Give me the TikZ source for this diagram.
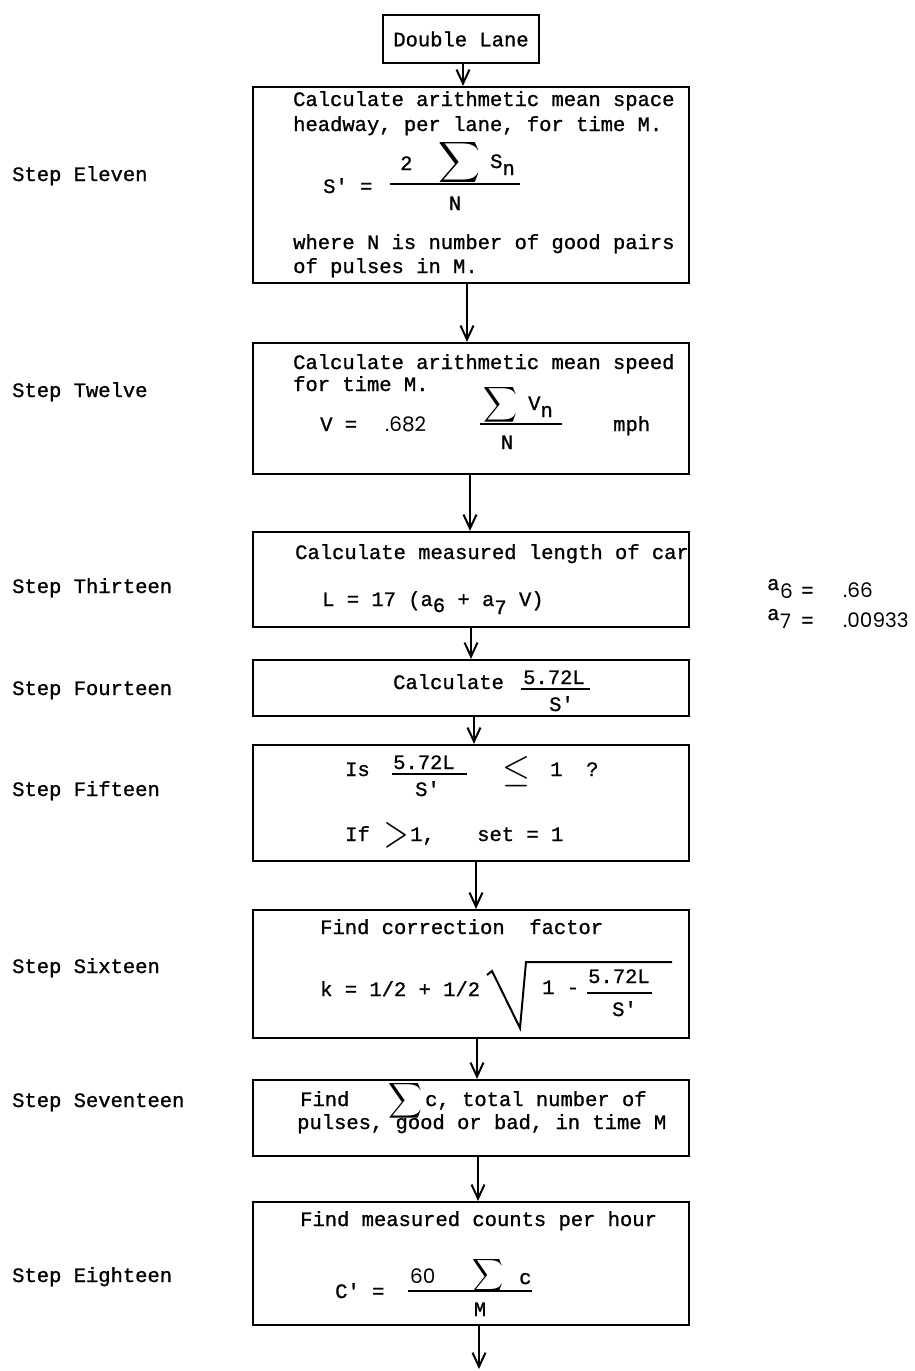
\documentclass[tikz,border=0pt]{standalone}
\usepackage{fontspec}
\usepackage{graphicx}
\usetikzlibrary{arrows.meta,calc}
\newfontfamily\twfont[FakeBold=1]{Liberation Mono}
\newfontfamily\geofont{Poppins}
\newcommand{\tw}{\twfont\fontsize{20.5}{24}\selectfont}
\newcommand{\geo}{\geofont\fontsize{20}{24}\selectfont}
\newcommand{\bigsum}[2]{\resizebox{#1}{#2}{$\displaystyle\sum$}}
\begin{document}
\begin{tikzpicture}[x=1pt,y=-1pt,
  box/.style={draw,line width=2.2pt,inner sep=0pt},
  tx/.style={anchor=base west,inner sep=0pt,font=\tw},
  tc/.style={anchor=base,inner sep=0pt,font=\tw},
  gx/.style={anchor=base west,inner sep=0pt,font=\geo},
  sym/.style={inner sep=0pt,anchor=center},
  frac/.style={line width=1.6pt},
  rad/.style={line width=2pt,line join=miter},
  arr/.style={line width=2pt,-{Straight Barb[length=14pt,width=13pt]}}]
\fill[white] (0,0) rectangle (914,1371);
\useasboundingbox (0,0) rectangle (914,1371);

% boxes
\node[box,minimum width=156pt,minimum height=48pt,font=\tw] (b1) at (461,39) {Double Lane};
\node[box,minimum width=436pt,minimum height=196pt] (b2) at (471,185) {};
\node[box,minimum width=436pt,minimum height=131pt] (b3) at (471,408.5) {};
\node[box,minimum width=436pt,minimum height=95pt] (b4) at (471,579.5) {};
\node[box,minimum width=436pt,minimum height=56pt] (b5) at (471,688) {};
\node[box,minimum width=436pt,minimum height=116pt] (b6) at (471,803) {};
\node[box,minimum width=436pt,minimum height=128pt] (b7) at (471,974) {};
\node[box,minimum width=436pt,minimum height=76pt] (b8) at (471,1118) {};
\node[box,minimum width=436pt,minimum height=123pt] (b9) at (471,1263.5) {};
\coordinate (end) at (479,1369);

% connectors
\draw[arr] ($(b1.south)+(2,0)$) -- ($(b2.north)+(-8,0)$);
\draw[arr] ($(b2.south)+(-4,0)$) -- ($(b3.north)+(-4,0)$);
\draw[arr] ($(b3.south)+(-1,0)$) -- ($(b4.north)+(-1,0)$);
\draw[arr] (b4.south) -- (b5.north);
\draw[arr] ($(b5.south)+(3,0)$) -- ($(b6.north)+(3,0)$);
\draw[arr] ($(b6.south)+(5,0)$) -- ($(b7.north)+(5,0)$);
\draw[arr] ($(b7.south)+(6,0)$) -- ($(b8.north)+(6,0)$);
\draw[arr] ($(b8.south)+(7,0)$) -- ($(b9.north)+(7,0)$);
\draw[arr] ($(b9.south)+(8,0)$) -- (end);

% step labels
\node[tx] (l11) at (12,181) {Step Eleven};
\node[tx] (l12) at (12,397) {Step Twelve};
\node[tx] (l13) at (12,593) {Step Thirteen};
\node[tx] (l14) at (12,695) {Step Fourteen};
\node[tx] (l15) at (12,796) {Step Fifteen};
\node[tx] (l16) at (12,973) {Step Sixteen};
\node[tx] (l17) at (12,1107) {Step Seventeen};
\node[tx] (l18) at (12,1282) {Step Eighteen};

% box 2
\node[tx] (t21) at (293,106) {Calculate arithmetic mean space};
\node[tx] (t22) at (293,131) {headway, per lane, for time M.};
\node[tx] (t23) at (323,193) {S' =};
\node[tx] (t24) at (400,170) {2};
\node[sym] (t25) at (459,162) {\bigsum{42pt}{30pt}};
\node[tx] (t26) at (490,168) {S\raisebox{-7pt}{n}};
\draw[frac] (390,184) -- (520,184);
\node[tc] (t27) at (455,210) {N};
\node[tx] (t28) at (293,249) {where N is number of good pairs};
\node[tx] (t29) at (293,273) {of pulses in M.};

% box 3
\node[tx] (t31) at (293,369) {Calculate arithmetic mean speed};
\node[tx] (t32) at (293,391) {for time M.};
\node[tx] (t33) at (320,431) {V =};
\node[gx] (t34) at (385,431) {.682};
\node[sym] (t35) at (500,405) {\bigsum{34pt}{26pt}};
\node[tx] (t36) at (528,410) {V\raisebox{-7pt}{n}};
\draw[frac] (480,424) -- (562,424);
\node[tc] (t37) at (507,449) {N};
\node[tx] (t38) at (613,431) {mph};

% box 4
\node[tx] (t41) at (295,559) {Calculate measured length of car};
\node[tx] (t42) at (322,606) {L = 17 (a\raisebox{-6pt}{6} + a\raisebox{-8pt}{7} V)};

% box 5
\node[tx] (t51) at (393,689) {Calculate};
\node[tx] (t52) at (523,684) {5.72L};
\draw[frac] (521,689) -- (590,689);
\node[tx] (t53) at (549,711) {S'};

% box 6
\node[tx] (t61) at (345,776) {Is};
\node[tx] (t62) at (393,769) {5.72L};
\draw[frac] (392,774) -- (467,774);
\node[tx] (t63) at (415,796) {S'};
\node[sym] (t64) at (516,772) {\resizebox{28pt}{25pt}{$\leq$}};
\node[tx] (t65) at (550,776) {1};
\node[tx] (t66) at (586,776) {?};
\node[tx] (t67) at (345,841) {If};
\node[sym] (t68) at (396,835) {\resizebox{25pt}{24pt}{$>$}};
\node[tx] (t69) at (410,841) {1,};
\node[tx] (t6a) at (477,841) {set = 1};

% box 7
\node[tx] (t71) at (320,934) {Find correction\ \ factor};
\node[tx] (t72) at (320,996) {k = 1/2 + 1/2};
\draw[rad] (487,975) -- (492,971) -- (520,1028) -- (526,962) -- (672,962);
\node[tx] (t73) at (542,994) {1 -};
\node[tx] (t74) at (588,983) {5.72L};
\draw[frac] (587,993) -- (652,993);
\node[tx] (t75) at (612,1016) {S'};

% box 8
\node[tx] (t81) at (300,1106) {Find};
\node[sym] (t82) at (405,1101) {\bigsum{34pt}{26pt}};
\node[tx] (t83) at (425,1106) {c, total number of};
\node[tx] (t84) at (297,1129) {pulses, good or bad, in time M};

% box 9
\node[tx] (t91) at (300,1226) {Find measured counts per hour};
\node[tx] (t92) at (335,1298) {C' =};
\node[gx] (t93) at (410,1283) {60};
\node[sym] (t94) at (488,1275) {\bigsum{31pt}{24pt}};
\node[tx] (t95) at (519,1284) {c};
\draw[frac] (408,1291) -- (532,1291);
\node[tc] (t96) at (480,1316) {M};

% side constants
\node[tx] (a6) at (767,590) {a};
\node[gx] (a6s) at (780,598) {6};
\node[tx] (a6e) at (801,597) {=};
\node[gx] (a6v) at (843,597) {.66};
\node[tx] (a7) at (767,620) {a};
\node[gx] (a7s) at (780,628) {7};
\node[tx] (a7e) at (801,627) {=};
\node[gx] (a7v) at (843,627) {.00933};
\end{tikzpicture}
\end{document}
